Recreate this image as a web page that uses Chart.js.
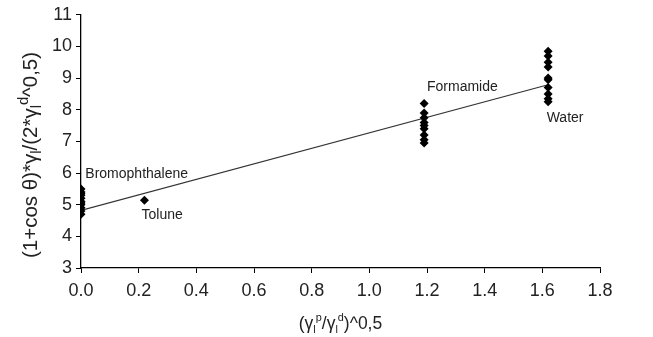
<!DOCTYPE html>
<html>
<head>
<meta charset="utf-8">
<script src="https://cdn.jsdelivr.net/npm/chart.js@4.4.1/dist/chart.umd.min.js"></script>
<style>
  html, body { margin: 0; padding: 0; background: #fff; }
  #wrap { width: 653px; height: 337px; position: relative; }
</style>
</head>
<body>
<div id="wrap"><canvas id="c"></canvas></div>
<script>
const bromoX = [0, 0, 0, 0, 0, 0, 0, 0, 0, 0, 0];
const bromoY = [4.7, 4.8, 4.9, 5.0, 5.05, 5.1, 5.2, 5.3, 5.35, 5.4, 5.5];
const toluneX = [0.22];
const toluneY = [5.14];
const formX = [1.19, 1.19, 1.19, 1.19, 1.19, 1.19, 1.19, 1.19, 1.19];
const formY = [8.2, 7.9, 7.75, 7.6, 7.5, 7.4, 7.2, 7.05, 6.95];
const waterX = [1.62, 1.62, 1.62, 1.62, 1.62, 1.62, 1.62, 1.62, 1.62, 1.62];
const waterY = [9.85, 9.7, 9.5, 9.35, 9.0, 8.95, 8.7, 8.5, 8.35, 8.25];

// fitted line end points
const fitX = [0, 1.62];
const fitY = [4.82, 8.79];

// liquid names and where they sit (data coords)
const labelText = ['Bromophthalene', 'Tolune', 'Formamide', 'Water'];
const labelX = [0.015, 0.21, 1.2, 1.615];
const labelY = [5.85, 4.55, 8.6, 7.6];

const xTicks = [0, 0.2, 0.4, 0.6, 0.8, 1.0, 1.2, 1.4, 1.6, 1.8];
const yTicks = [3, 4, 5, 6, 7, 8, 9, 10, 11];

const FONT = 'Liberation Sans, Arial, sans-serif';
const pts = (xs, ys) => xs.map((x, i) => ({ x, y: ys[i] }));

// draws a string made of runs: [text, 'n'|'sub'|'sup']
function drawRuns(ctx, runs, size, small) {
  const fontOf = k => (k === 'n' ? size : size * small) + 'px ' + FONT;
  let w = 0;
  const widths = runs.map(([t, k]) => {
    ctx.font = fontOf(k);
    const m = ctx.measureText(t).width;
    w += m;
    return m;
  });
  let x = -w / 2;
  runs.forEach(([t, k], i) => {
    ctx.font = fontOf(k);
    const dy = k === 'sub' ? size * 0.2 : k === 'sup' ? -size * 0.45 : 0;
    ctx.fillText(t, x, dy);
    x += widths[i];
  });
}

const extras = {
  id: 'extras',
  afterDraw(chart) {
    const { ctx, chartArea, scales } = chart;
    ctx.save();
    ctx.fillStyle = '#222';
    ctx.textBaseline = 'alphabetic';
    ctx.textAlign = 'left';
    ctx.font = '14px ' + FONT;
    labelText.forEach((t, i) => {
      ctx.fillText(t, scales.x.getPixelForValue(labelX[i]), scales.y.getPixelForValue(labelY[i]));
    });

    // x title
    ctx.translate((chartArea.left + chartArea.right) / 2, 329);
    drawRuns(ctx, [['(γ', 'n'], ['l', 'sub'], ['p', 'sup'], ['/γ', 'n'], ['l', 'sub'], ['d', 'sup'], [')^0,5', 'n']], 17.5, 0.62);
    ctx.restore();

    // y title
    ctx.save();
    ctx.fillStyle = '#222';
    ctx.translate(37, 155);
    ctx.rotate(-Math.PI / 2);
    drawRuns(ctx, [['(1+cos θ)*γ', 'n'], ['l', 'sub'], ['/(2*γ', 'n'], ['l', 'sub'], ['d', 'sup'], ['^0,5)', 'n']], 20.5, 0.72);
    ctx.restore();
  }
};

const scatterStyle = {
  type: 'scatter',
  pointStyle: 'rectRot',
  pointRadius: 4.5,
  pointBackgroundColor: '#000',
  pointBorderColor: '#000',
  pointBorderWidth: 0
};

new Chart(document.getElementById('c'), {
  data: {
    datasets: [
      { ...scatterStyle, data: pts(bromoX, bromoY) },
      { ...scatterStyle, data: pts(toluneX, toluneY) },
      { ...scatterStyle, data: pts(formX, formY) },
      { ...scatterStyle, data: pts(waterX, waterY) },
      {
        type: 'line',
        data: pts(fitX, fitY),
        borderColor: '#333',
        borderWidth: 1.2,
        pointRadius: 0,
        fill: false
      }
    ]
  },
  options: {
    responsive: true,
    maintainAspectRatio: false,
    animation: false,
    events: [],
    layout: { padding: { top: 14, right: 53, left: 0, bottom: 0 } },
    plugins: { legend: { display: false }, tooltip: { enabled: false } },
    scales: {
      x: {
        type: 'linear',
        min: 0, max: 1.8,
        afterBuildTicks: s => { s.ticks = xTicks.map(v => ({ value: v })); },
        afterFit: s => { s.height = 69; },
        border: { color: '#000', width: 1.3 },
        grid: { drawOnChartArea: false, color: '#000', tickLength: 5, tickWidth: 1 },
        ticks: {
          color: '#222', padding: 7,
          font: { family: FONT, size: 18 },
          callback: v => v.toFixed(1)
        }
      },
      y: {
        type: 'linear',
        min: 3, max: 11,
        afterBuildTicks: s => { s.ticks = yTicks.map(v => ({ value: v })); },
        afterFit: s => { s.width = 81; },
        border: { color: '#000', width: 1.3 },
        grid: { drawOnChartArea: false, color: '#000', tickLength: 5, tickWidth: 1 },
        ticks: {
          color: '#222', padding: 4,
          font: { family: FONT, size: 18 }
        }
      }
    }
  },
  plugins: [extras]
});
</script>
</body>
</html>
